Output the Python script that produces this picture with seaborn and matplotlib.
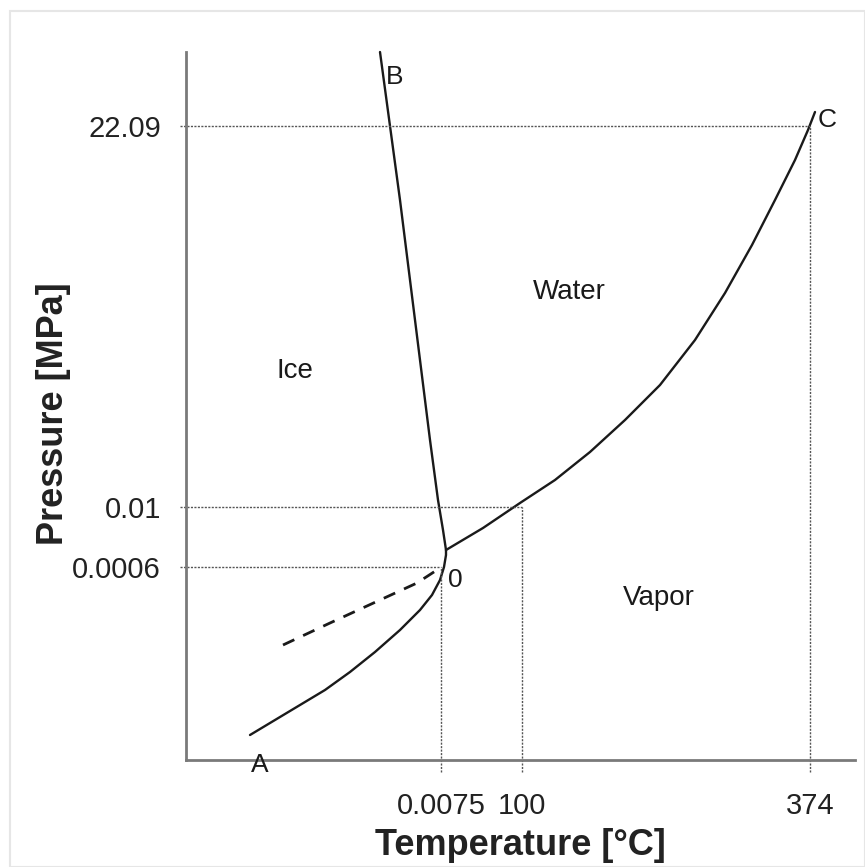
import numpy as np
import pandas as pd
import matplotlib
matplotlib.use("Agg")
import matplotlib.pyplot as plt
import seaborn as sns

# ---- data (schematic diagram units) ----
fusion_x = [194, 204, 214, 224, 234, 244, 252, 257, 260]
fusion_y = [708, 634, 560, 480, 400, 320, 260, 230, 210]

vapor_x = [260, 297, 334, 369, 404, 439, 474, 509, 539, 566, 589, 609, 622, 629]
vapor_y = [210, 232, 257, 280, 308, 340, 375, 420, 467, 515, 560, 600, 630, 648]

sublim_x = [64, 89, 114, 139, 164, 189, 214, 234, 246, 254, 258, 260, 260]
sublim_y = [25, 40, 55, 70, 88, 108, 130, 150, 165, 180, 193, 205, 210]

super_x = [97, 144, 194, 231, 254]
super_y = [115, 137, 160, 177, 192]

xtick_pos = [255, 336, 624]
xtick_labels = ["0.0075", "100", "374"]
ytick_pos = [634, 253, 193]
ytick_labels = ["22.09", "0.01", "0.0006"]

point_labels = ["A", "B", "C", "0"]
point_x = [74, 209, 641, 269]
point_y = [-5, 683, 640, 180]

region_labels = ["Water", "Ice", "Vapor"]
region_x = [383, 109, 473]
region_y = [468, 389, 162]

# ---- style ----
sns.set_theme(style="ticks")
plt.rcParams["font.family"] = ["Liberation Sans", "DejaVu Sans"]

fig = plt.figure(figsize=(8.65, 8.67), dpi=100)
ax = fig.add_axes([186/865, 107/867, 669/865, 708/867])

# faint outer frame of the picture
fig.patches.append(plt.Rectangle((10/865, 0), 855/865, 856/867, transform=fig.transFigure,
                                 fill=False, edgecolor="#e6e6e6", linewidth=1.5))

ax.set_xlim(0, 669)
ax.set_ylim(0, 708)

curves = pd.concat([
    pd.DataFrame({"x": fusion_x, "y": fusion_y, "curve": "fusion"}),
    pd.DataFrame({"x": vapor_x, "y": vapor_y, "curve": "vapor"}),
    pd.DataFrame({"x": sublim_x, "y": sublim_y, "curve": "sublimation"}),
])
for name, grp in curves.groupby("curve"):
    sns.lineplot(data=grp, x="x", y="y", sort=False, estimator=None, ax=ax,
                 color="#1a1a1a", linewidth=1.7, clip_on=False)
sns.lineplot(x=super_x, y=super_y, sort=False, estimator=None, ax=ax,
             color="#1a1a1a", linewidth=2.0, linestyle=(0, (4.5, 3.5)))

# dotted reference lines
dot = dict(color="#555555", linewidth=1.0, linestyle=(0, (1.5, 1)), clip_on=False)
pairs_x = [xtick_pos[2], xtick_pos[1], xtick_pos[0]]
pairs_y = [ytick_pos[0], ytick_pos[1], ytick_pos[2]]
for xp, yp in zip(pairs_x, pairs_y):
    ax.plot([-6, xp], [yp, yp], **dot)
    ax.plot([xp, xp], [-12, yp], **dot)

ax.set_xticks(xtick_pos)
ax.set_xticklabels(xtick_labels)
ax.set_yticks(ytick_pos)
ax.set_yticklabels(ytick_labels)
ax.tick_params(axis="both", length=0, labelsize=21, colors="#222222")
ax.tick_params(axis="x", pad=23)
ax.tick_params(axis="y", pad=18)

ax.set_xlabel("Temperature [°C]", fontsize=26, fontweight="bold", color="#222222", labelpad=6)
ax.set_ylabel("Pressure [MPa]", fontsize=26, fontweight="bold", color="#222222", labelpad=0)
ax.yaxis.set_label_coords(-0.172, 0.489)

sns.despine(ax=ax)
for s in ["left", "bottom"]:
    ax.spines[s].set_color("#7a7a7a")
    ax.spines[s].set_linewidth(2)

for t, xx, yy in zip(point_labels, point_x, point_y):
    ax.text(xx, yy, t, fontsize=19, ha="center", va="center", color="#1a1a1a")
for t, xx, yy in zip(region_labels, region_x, region_y):
    ax.text(xx, yy, t, fontsize=20, ha="center", va="center", color="#1a1a1a")

fig.savefig("out.png", dpi=100)
